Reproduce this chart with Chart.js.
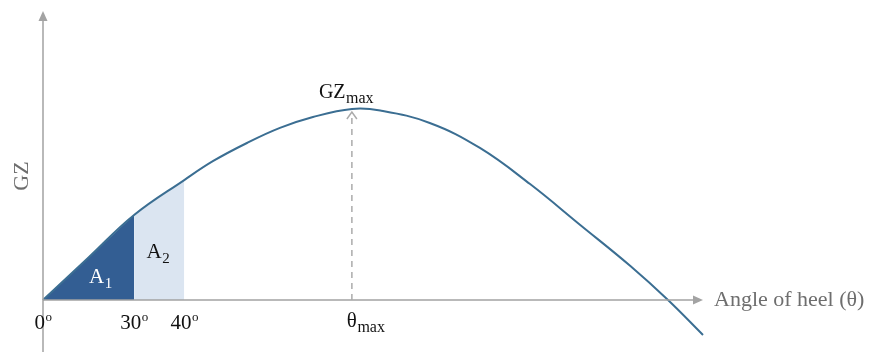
<!DOCTYPE html>
<html>
<head>
<meta charset="utf-8">
<script src="https://cdn.jsdelivr.net/npm/chart.js@4"></script>
<style>
  html, body { margin: 0; padding: 0; background: #ffffff; }
  #wrap { width: 875px; height: 352px; }
</style>
</head>
<body>
<div id="wrap"><canvas id="gzChart" width="875" height="352"></canvas></div>
<script>
// Righting lever curve (schematic units along the heel axis)
const heelPos = [0, 6.9, 13.8, 21.4, 25.8, 30.9, 35.9, 40.9, 46.8, 51.1, 58.6, 66.2, 73.8, 81.4, 89.0, 94.7, 100];
const gzValues = [0, 0.2225, 0.445, 0.628, 0.728, 0.822, 0.901, 0.958, 1.0, 0.992, 0.927, 0.796, 0.607, 0.393, 0.178, 0, -0.183];

// Shaded areas A1 (0-30 deg) and A2 (30-40 deg)
const areaBounds = [0, 13.8, 21.4];
const areaNames = ['A', 'A'];
const areaSubs = ['1', '2'];

// Labels under the heel axis
const tickPos = [0, 13.8, 21.4, 46.8];
const tickMain = ['0', '30', '40', '\u03b8'];
const tickExtra = ['o', 'o', 'o', 'max'];
const tickExtraKind = ['sup', 'sup', 'sup', 'sub'];

const serif = "'Liberation Serif', 'Times New Roman', serif";
const curveColor = '#3b6e92';
const axisColor = '#a3a3a3';

function pointsBetween(a, b) {
    const pts = [];
    heelPos.forEach(function (x, i) {
        if (x >= a && x <= b) pts.push({x: x, y: gzValues[i]});
    });
    return pts;
}

const curve = heelPos.map(function (x, i) { return {x: x, y: gzValues[i]}; });
const peakIdx = gzValues.indexOf(Math.max.apply(null, gzValues));

// text with a small raised or lowered suffix
function drawText(ctx, x, y, main, size, extra, extraSize, kind, color, align) {
    ctx.fillStyle = color;
    ctx.textBaseline = 'alphabetic';
    ctx.font = size + 'px ' + serif;
    const w1 = ctx.measureText(main).width;
    ctx.font = extraSize + 'px ' + serif;
    const w2 = ctx.measureText(extra).width;
    let left = x;
    if (align === 'center') left = x - w1 / 2;
    if (align === 'centerAll') left = x - (w1 + w2) / 2;
    ctx.font = size + 'px ' + serif;
    ctx.textAlign = 'left';
    ctx.fillText(main, left, y);
    ctx.font = extraSize + 'px ' + serif;
    const dy = kind === 'sup' ? -8 : 5;
    ctx.fillText(extra, left + w1 + 0.5, y + dy);
}

const annotations = {
    id: 'annotations',
    afterDatasetsDraw(chart) {
        const ctx = chart.ctx;
        const xs = chart.scales.x;
        const ys = chart.scales.y;
        const area = chart.chartArea;
        const x0 = xs.getPixelForValue(0);
        const y0 = ys.getPixelForValue(0);
        const xEnd = xs.getPixelForValue(100);

        ctx.save();
        // axes with arrow heads
        ctx.strokeStyle = axisColor;
        ctx.fillStyle = axisColor;
        ctx.lineWidth = 1.5;
        ctx.beginPath();
        ctx.moveTo(x0, chart.height);
        ctx.lineTo(x0, area.top + 8);
        ctx.moveTo(x0, y0);
        ctx.lineTo(xEnd - 8, y0);
        ctx.stroke();
        ctx.beginPath();
        ctx.moveTo(x0, area.top);
        ctx.lineTo(x0 - 4.5, area.top + 10);
        ctx.lineTo(x0 + 4.5, area.top + 10);
        ctx.closePath();
        ctx.fill();
        ctx.beginPath();
        ctx.moveTo(xEnd, y0);
        ctx.lineTo(xEnd - 10, y0 - 4.5);
        ctx.lineTo(xEnd - 10, y0 + 4.5);
        ctx.closePath();
        ctx.fill();

        // dashed marker at the maximum
        const px = xs.getPixelForValue(heelPos[peakIdx]);
        const py = ys.getPixelForValue(gzValues[peakIdx]);
        ctx.strokeStyle = '#ababab';
        ctx.lineWidth = 1.5;
        ctx.setLineDash([6, 5]);
        ctx.beginPath();
        ctx.moveTo(px, y0);
        ctx.lineTo(px, py + 3);
        ctx.stroke();
        ctx.setLineDash([]);
        ctx.beginPath();
        ctx.moveTo(px - 5, py + 10);
        ctx.lineTo(px, py + 3);
        ctx.lineTo(px + 5, py + 10);
        ctx.stroke();

        // GZmax
        drawText(ctx, px - 33, py - 11, 'GZ', 20, 'max', 16, 'sub', '#111111', 'left');

        // area labels
        drawText(ctx, xs.getPixelForValue(8.7), ys.getPixelForValue(0.089),
            areaNames[0], 21, areaSubs[0], 15, 'sub', '#ffffff', 'centerAll');
        drawText(ctx, xs.getPixelForValue(17.4), ys.getPixelForValue(0.22),
            areaNames[1], 21, areaSubs[1], 15, 'sub', '#111111', 'centerAll');

        // labels under the axis
        tickPos.forEach(function (v, i) {
            const tx = xs.getPixelForValue(v);
            if (tickExtraKind[i] === 'sup') {
                drawText(ctx, tx, y0 + 29, tickMain[i], 21, tickExtra[i], 13, 'sup', '#111111', 'centerAll');
            } else {
                drawText(ctx, tx, y0 + 27, tickMain[i], 21, tickExtra[i], 16, 'sub', '#111111', 'center');
            }
        });

        // axis titles
        ctx.fillStyle = '#6e6e6e';
        ctx.font = '22px ' + serif;
        ctx.textAlign = 'left';
        ctx.textBaseline = 'middle';
        ctx.fillText('Angle of heel (\u03b8)', xEnd + 11, y0);

        ctx.translate(22, 176);
        ctx.rotate(-Math.PI / 2);
        ctx.textAlign = 'center';
        ctx.font = '22px ' + serif;
        ctx.fillText('GZ', 0, 0);
        ctx.restore();
    }
};

const ctx = document.getElementById('gzChart').getContext('2d');
const gzChart = new Chart(ctx, {
    type: 'line',
    data: {
        datasets: [
            {
                label: 'GZ',
                data: curve,
                borderColor: curveColor,
                borderWidth: 2,
                tension: 0.4,
                pointRadius: 0,
                fill: false,
                clip: false
            },
            {
                label: 'A1',
                data: pointsBetween(areaBounds[0], areaBounds[1]),
                borderWidth: 0,
                backgroundColor: '#335e93',
                pointRadius: 0,
                tension: 0,
                fill: 'origin'
            },
            {
                label: 'A2',
                data: pointsBetween(areaBounds[1], areaBounds[2]),
                borderWidth: 0,
                backgroundColor: '#dbe5f1',
                pointRadius: 0,
                tension: 0,
                fill: 'origin'
            }
        ]
    },
    options: {
        responsive: false,
        animation: false,
        layout: {
            padding: {left: 43, right: 172, top: 11, bottom: 0}
        },
        plugins: {
            legend: {display: false},
            tooltip: {enabled: false}
        },
        scales: {
            x: {type: 'linear', min: 0, max: 100, display: false},
            y: {min: -0.272, max: 1.513, display: false}
        }
    },
    plugins: [annotations]
});
</script>
</body>
</html>
